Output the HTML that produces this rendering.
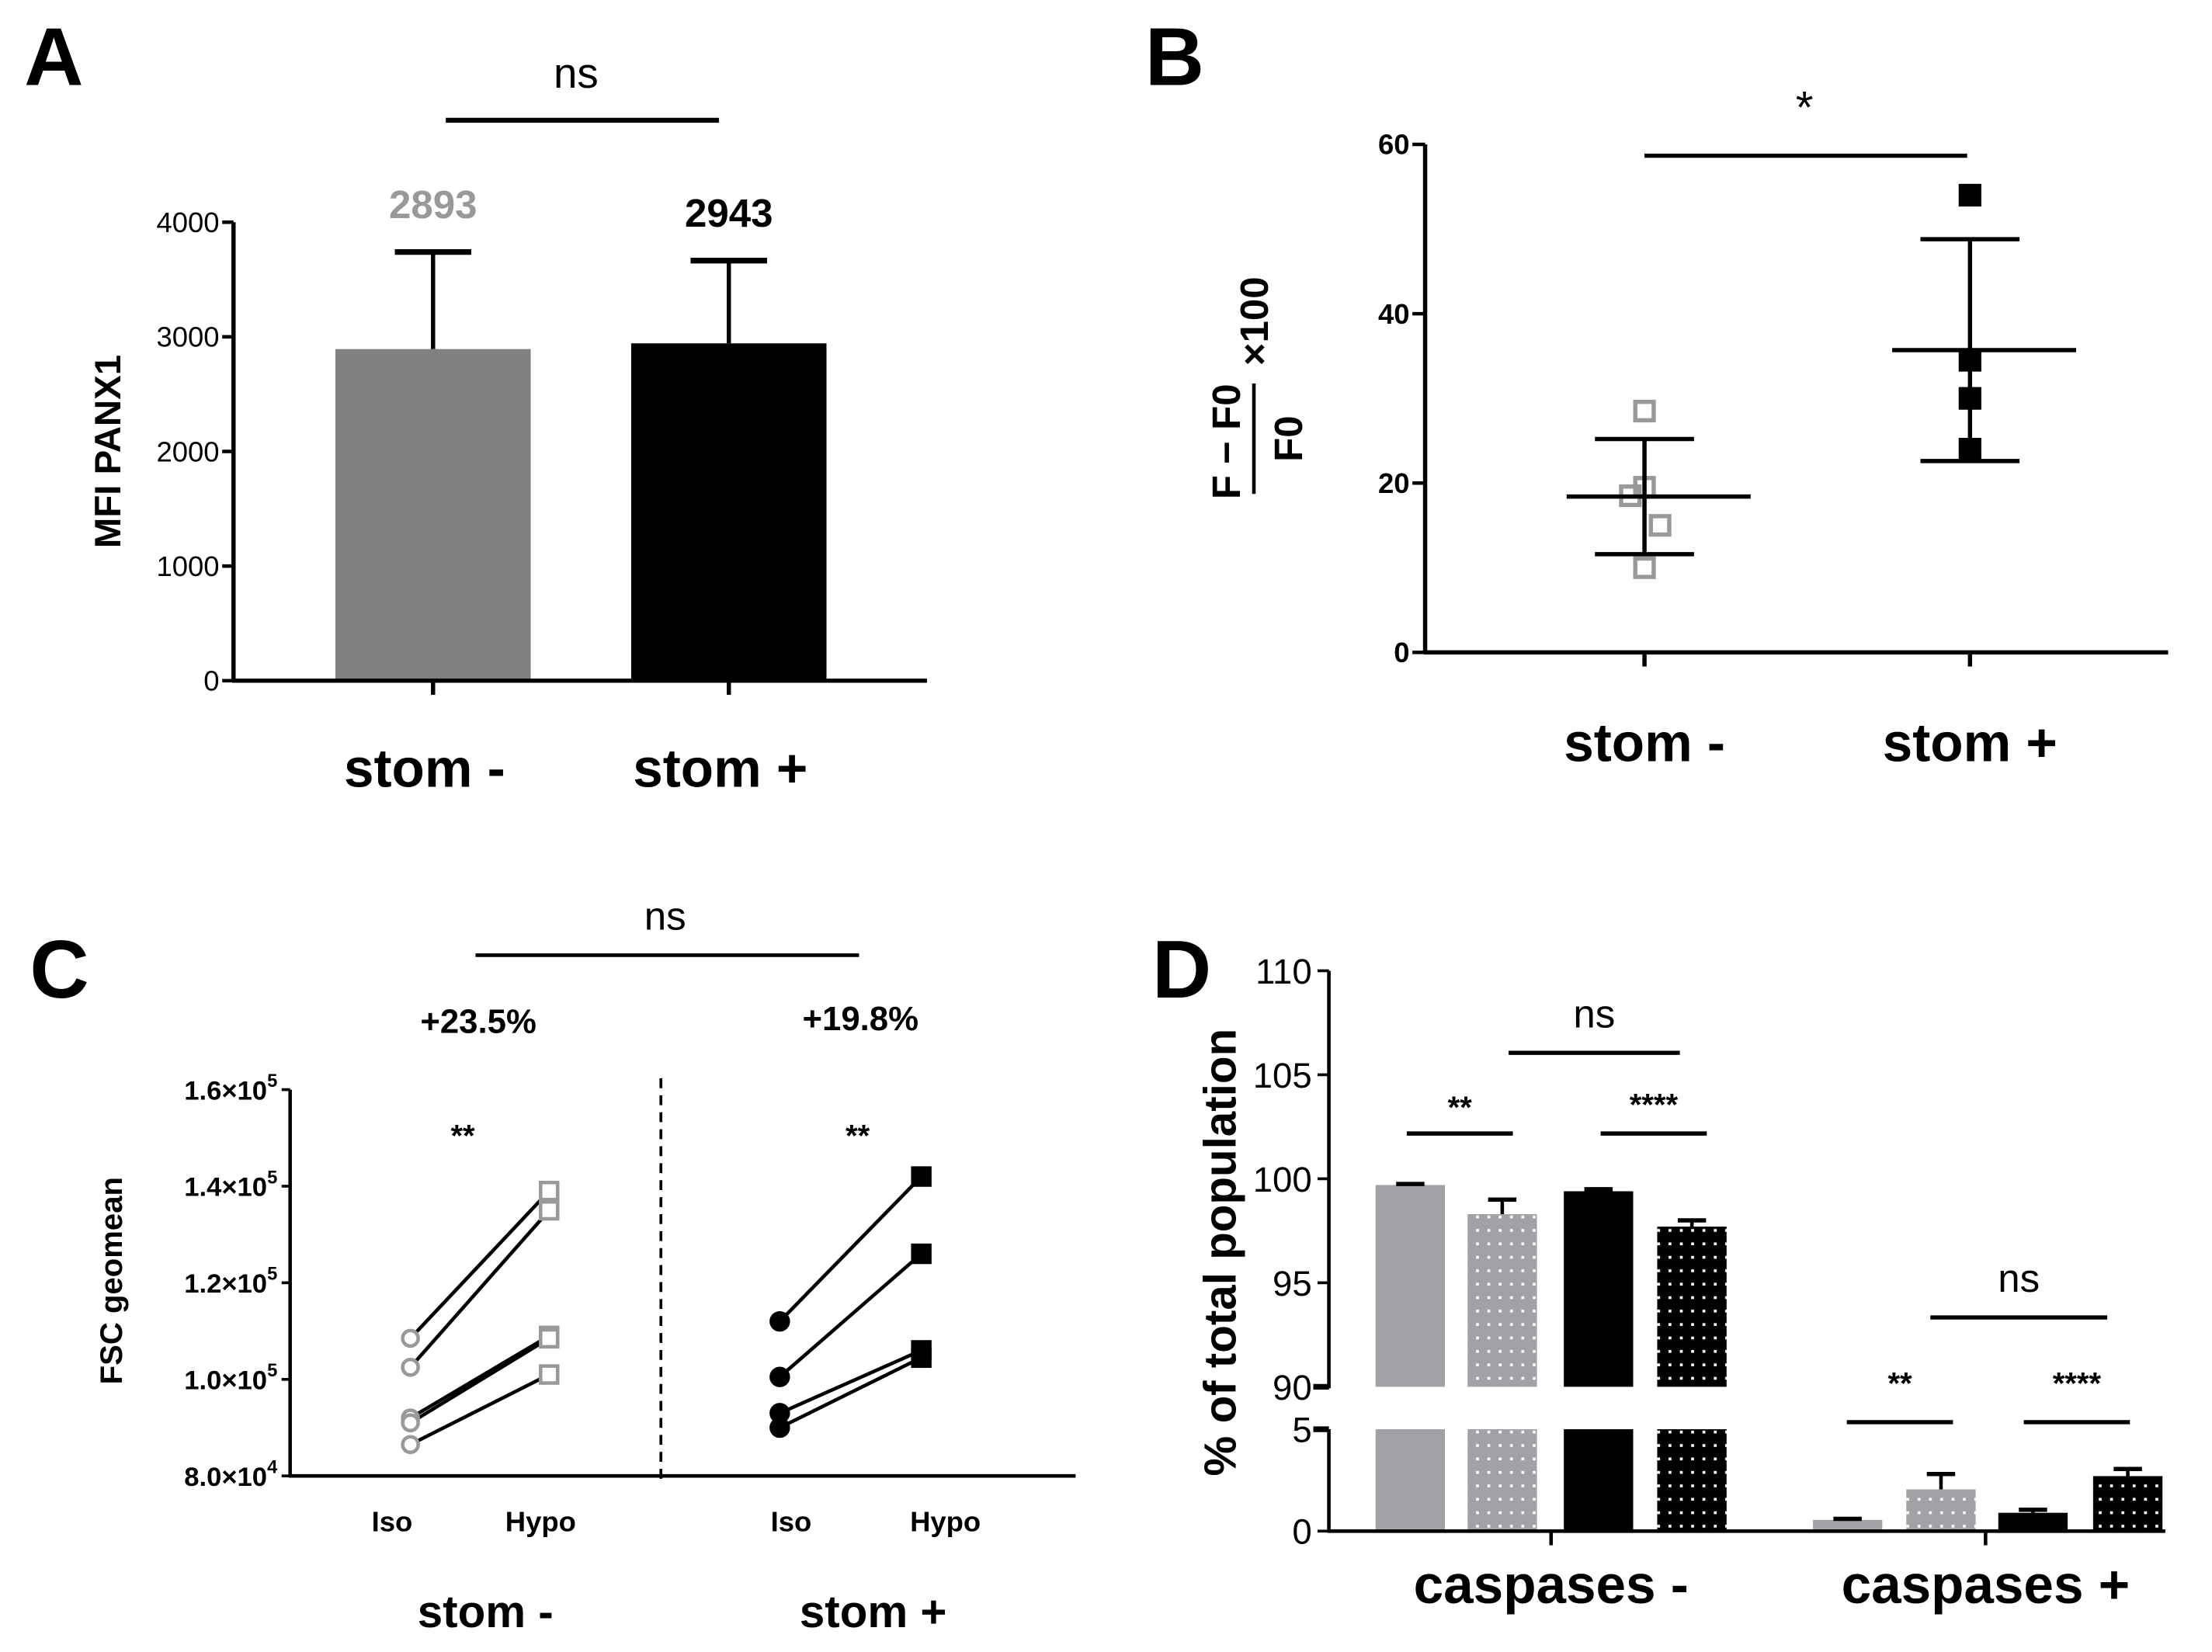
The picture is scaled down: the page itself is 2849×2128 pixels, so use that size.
<!DOCTYPE html>
<html><head><meta charset="utf-8"><style>
html,body{margin:0;padding:0;background:#fff;}
svg{display:block;font-family:"Liberation Sans",Arial,sans-serif;}
</style></head><body>
<svg id="fig" width="2849" height="2128" viewBox="0 0 1563 1167.4" xmlns="http://www.w3.org/2000/svg">
<g id="A"></g>
<g id="B"></g>
<g id="C"></g>
<g id="D"></g>
</svg>
<script>
// ---- Panel A data
const aCategories = ["stom -", "stom +"];
const aMeans = [2893, 2943];
const aErrTop = [3740, 3665];
const aTicks = [0, 1000, 2000, 3000, 4000];
// ---- Panel B data
const bCategories = ["stom -", "stom +"];
const bPointsNeg = [28.5, 19.5, 18.5, 15, 10];
const bPointsPos = [54, 34.5, 30, 24];
const bMeans = [18.4, 35.7];
const bSD = [6.8, 13.1];
const bTicks = [0, 20, 40, 60];
// ---- Panel C data
const cIsoNeg = [108500, 102500, 92000, 91000, 86500];
const cHypoNeg = [139000, 135000, 109000, 108500, 101000];
const cIsoPos = [112000, 100500, 93000, 90000];
const cHypoPos = [142000, 126000, 106000, 104500];
const cTickLabels = ["8.0", "1.0", "1.2", "1.4", "1.6"];
const cTickValues = [80000, 100000, 120000, 140000, 160000];
const cTickExp = ["4", "5", "5", "5", "5"];
// ---- Panel D data
const dGroups = ["caspases -", "caspases +"];
const dMeansNeg = [99.7, 98.3, 99.4, 97.7];
const dErrNeg = [99.75, 99.0, 99.5, 98.0];
const dMeansPos = [0.55, 2.05, 0.9, 2.7];
const dErrPos = [0.6, 2.8, 1.05, 3.05];
const dUpperTicks = [90, 95, 100, 105, 110];
const dLowerTicks = [0, 5];

const NS = "http://www.w3.org/2000/svg";
function mk(parent, tag, attrs, text) {
  const e = document.createElementNS(NS, tag);
  for (const k in attrs) e.setAttribute(k, attrs[k]);
  if (text !== undefined) e.textContent = text;
  parent.appendChild(e);
  return e;
}
function line(p, x1, y1, x2, y2, w, name, color) {
  const e = mk(p, "line", {x1, y1, x2, y2, stroke: color || "#000", "stroke-width": w});
  
  
  return e;
}
function txt(p, x, y, s, size, weight, anchor, name, color) {
  const e = mk(p, "text", {x, y, "font-size": size, "font-weight": weight, "text-anchor": anchor, fill: color || "#000"}, s);
  
  
  return e;
}
function rect(p, x, y, w, h, fill, name) {
  const e = mk(p, "rect", {x, y, width: w, height: Math.max(0, h), fill});
  
  
  return e;
}

const defs = mk(document.getElementById("fig"), "defs", {});
function pat(id, bg) {
  const p = mk(defs, "pattern", {id, width: 8, height: 9.5, patternUnits: "userSpaceOnUse"});
  mk(p, "rect", {x: 0, y: 0, width: 8, height: 9.5, fill: bg});
  mk(p, "rect", {x: 3, y: 4, width: 2, height: 2, fill: "#fff"});
}
pat("dotGray", "#a2a2a6");
pat("dotBlack", "#000");

// ================= Panel A
(function () {
  const g = document.getElementById("A");
  const y = v => 481 - v * (324 / 4000);
  const xs = [306, 515];
  const colors = ["#808080", "#000"];
  txt(g, 38, 60, "A", 58, "bold", "middle", "panel-label-a");
  aTicks.forEach(t => {
    line(g, 157, y(t), 165, y(t), 2.5, "y-tick");
    txt(g, 155, y(t) + 7, String(t), 20, "normal", "end", "y-tick-label");
  });
  aMeans.forEach((m, i) => {
    rect(g, xs[i] - 69, y(m), 138, y(0) - y(m), colors[i], "bar-" + (i ? "stom-plus" : "stom-minus"));
    line(g, xs[i], y(m), xs[i], y(aErrTop[i]), 3, "error-bar");
    line(g, xs[i] - 27, y(aErrTop[i]), xs[i] + 27, y(aErrTop[i]), 4, "error-cap");
    txt(g, xs[i], y(aErrTop[i]) - 24, String(m), 28, "bold", "middle", "value-label", i ? "#000" : "#999");
    line(g, xs[i], 481, xs[i], 491, 3, "x-tick");
    txt(g, xs[i] - 6, 556, aCategories[i], 38, "bold", "middle", "x-label");
  });
  line(g, 165, 157, 165, 482, 3, "y-axis");
  line(g, 164, 481, 655, 481, 3, "x-axis");
  const t = txt(g, 0, 0, "MFI PANX1", 26, "bold", "middle", "y-axis-title");
  t.setAttribute("transform", "translate(85,319) rotate(-90)");
  line(g, 315, 85, 508, 85, 3.5, "significance-bar");
  txt(g, 407, 62, "ns", 30, "normal", "middle", "significance-label");
})();

// ================= Panel B
(function () {
  const g = document.getElementById("B");
  const y = v => 461 - v * (359 / 60);
  const xs = [1162, 1392];
  txt(g, 830, 60, "B", 58, "bold", "middle", "panel-label-b");
  bTicks.forEach(t => {
    line(g, 998, y(t), 1007, y(t), 2.5, "y-tick");
    txt(g, 996, y(t) + 7, String(t), 20, "bold", "end", "y-tick-label");
  });
  line(g, 1007, 102, 1007, 462, 3, "y-axis");
  line(g, 1006, 461, 1532, 461, 3, "x-axis");
  const offNeg = [0, 0, -10, 11, 0];
  bPointsNeg.forEach((v, i) => {
    const r = mk(g, "rect", {x: xs[0] + offNeg[i] - 6.5, y: y(v) - 6.5, width: 13, height: 13, fill: "none", stroke: "#999", "stroke-width": 3});
    
    
  });
  bPointsPos.forEach(v => {
    rect(g, xs[1] - 8, y(v) - 8, 16, 16, "#000", "point-stom-plus");
  });
  bMeans.forEach((m, i) => {
    line(g, xs[i], y(m + bSD[i]), xs[i], y(m - bSD[i]), 3, "sd-line");
    line(g, xs[i] - 35, y(m + bSD[i]), xs[i] + 35, y(m + bSD[i]), 3, "sd-cap-top");
    line(g, xs[i] - 35, y(m - bSD[i]), xs[i] + 35, y(m - bSD[i]), 3, "sd-cap-bottom");
    line(g, xs[i] - 55, y(m), xs[i] + 75, y(m), 3, "mean-line");
    line(g, xs[i], 461, xs[i], 471, 3, "x-tick");
    txt(g, xs[i], 538, bCategories[i], 38, "bold", "middle", "x-label");
  });
  line(g, 1162, 110, 1390, 110, 3, "significance-bar");
  txt(g, 1275, 87, "*", 32, "normal", "middle", "significance-label");
  const yt = mk(g, "g", {transform: "translate(886,265) rotate(-90)"});
  
  
  txt(yt, -47, -10, "F − F0", 28, "bold", "middle", "y-title-numerator");
  line(yt, -84, 0, -6, 0, 2.5, "y-title-fraction-bar");
  txt(yt, -45, 34, "F0", 28, "bold", "middle", "y-title-denominator");
  txt(yt, 38, 10, "×100", 28, "bold", "middle", "y-title-multiplier");
})();

// ================= Panel C
(function () {
  const g = document.getElementById("C");
  const y = v => 1043 - (v - 80000) * (273 / 80000);
  txt(g, 42, 705, "C", 58, "bold", "middle", "panel-label-c");
  cTickValues.forEach((t, i) => {
    line(g, 199, y(t), 205, y(t), 2, "y-tick");
    const e = txt(g, 196, y(t) + 7, "", 19, "bold", "end", "y-tick-label");
    mk(e, "tspan", {}, cTickLabels[i] + "×10");
    mk(e, "tspan", {dy: -9, "font-size": 13}, cTickExp[i]);
  });
  line(g, 205, 770, 205, 1044, 2.5, "y-axis");
  line(g, 204, 1043, 760, 1043, 2.5, "x-axis");
  for (let yy = 762; yy < 1043; yy += 12) line(g, 467, yy, 467, yy + 7, 2, "divider-dash");
  const t = txt(g, 0, 0, "FSC geomean", 22, "bold", "middle", "y-axis-title");
  t.setAttribute("transform", "translate(86,905) rotate(-90)");
  function pairs(iso, hypo, x1, x2, filled, name) {
    iso.forEach((v, i) => {
      line(g, x1, y(v), x2, y(hypo[i]), 2.5, name + "-pair-line");
    });
    iso.forEach(v => {
      const c = mk(g, "circle", {cx: x1, cy: y(v), r: filled ? 6 : 5.5, fill: filled ? "#000" : "#fff", stroke: filled ? "#000" : "#999", "stroke-width": 2.5});
      
      
    });
    hypo.forEach(v => {
      const r = mk(g, "rect", {x: x2 - 6, y: y(v) - 6, width: 12, height: 12, fill: filled ? "#000" : "#fff", stroke: filled ? "#000" : "#999", "stroke-width": 2.5});
      
      
    });
  }
  pairs(cIsoNeg, cHypoNeg, 290, 388, false, "stom-minus");
  pairs(cIsoPos, cHypoPos, 551, 651, true, "stom-plus");
  txt(g, 277, 1082, "Iso", 20, "bold", "middle", "x-label-iso");
  txt(g, 382, 1082, "Hypo", 20, "bold", "middle", "x-label-hypo");
  txt(g, 559, 1082, "Iso", 20, "bold", "middle", "x-label-iso");
  txt(g, 668, 1082, "Hypo", 20, "bold", "middle", "x-label-hypo");
  txt(g, 343, 1150, "stom -", 32, "bold", "middle", "group-label");
  txt(g, 617, 1150, "stom +", 32, "bold", "middle", "group-label");
  txt(g, 327, 810, "**", 22, "bold", "middle", "significance-label");
  txt(g, 606, 810, "**", 22, "bold", "middle", "significance-label");
  txt(g, 338, 730, "+23.5%", 24, "bold", "middle", "percent-label");
  txt(g, 608, 728, "+19.8%", 24, "bold", "middle", "percent-label");
  line(g, 336, 675, 607, 675, 2.5, "significance-bar");
  txt(g, 470, 657, "ns", 28, "normal", "middle", "significance-label");
})();

// ================= Panel D
(function () {
  const g = document.getElementById("D");
  const yU = v => 980 - (v - 90) * 14.7;
  const yL = v => 1082 - v * 14.4;
  txt(g, 835, 705, "D", 58, "bold", "middle", "panel-label-d");
  const fills = ["#a2a2a6", "url(#dotGray)", "#000", "url(#dotBlack)"];
  const x1 = [972, 1037, 1105, 1171];
  const x2 = [1281, 1347, 1412, 1479];
  const bw = 49;
  dMeansNeg.forEach((m, i) => {
    rect(g, x1[i], yU(m), bw, yU(90) - yU(m), fills[i], "bar-caspases-neg-upper");
    rect(g, x1[i], yL(5), bw, yL(0) - yL(5), fills[i], "bar-caspases-neg-lower");
    line(g, x1[i] + bw / 2, yU(m), x1[i] + bw / 2, yU(dErrNeg[i]), 2.5, "error-bar");
    line(g, x1[i] + bw / 2 - 10, yU(dErrNeg[i]), x1[i] + bw / 2 + 10, yU(dErrNeg[i]), 3, "error-cap");
  });
  dMeansPos.forEach((m, i) => {
    rect(g, x2[i], yL(m), bw, yL(0) - yL(m), fills[i], "bar-caspases-pos");
    line(g, x2[i] + bw / 2, yL(m), x2[i] + bw / 2, yL(dErrPos[i]), 2.5, "error-bar");
    line(g, x2[i] + bw / 2 - 10, yL(dErrPos[i]), x2[i] + bw / 2 + 10, yL(dErrPos[i]), 3, "error-cap");
  });
  line(g, 939, 686, 939, 981, 2.5, "y-axis-upper");
  line(g, 939, 1010, 939, 1083, 2.5, "y-axis-lower");
  dUpperTicks.forEach(t => {
    line(g, t === 90 ? 928 : 931, yU(t), 939, yU(t), t === 90 ? 4 : 2, "y-tick");
    txt(g, 927, yU(t) + 9, String(t), 25, "normal", "end", "y-tick-label");
  });
  dLowerTicks.forEach(t => {
    line(g, t === 5 ? 928 : 931, yL(t), 939, yL(t), t === 5 ? 4 : 2, "y-tick");
    txt(g, 927, yL(t) + 9, String(t), 25, "normal", "end", "y-tick-label");
  });
  line(g, 938, 1082, 1530, 1082, 2.5, "x-axis");
  const gc = [1096, 1403];
  dGroups.forEach((n, i) => {
    line(g, gc[i], 1082, gc[i], 1092, 2.5, "x-tick");
    txt(g, gc[i], 1133, n, 38, "bold", "middle", "x-label");
  });
  const t = txt(g, 0, 0, "% of total population", 32, "bold", "middle", "y-axis-title");
  t.setAttribute("transform", "translate(873,885) rotate(-90)");
  function sig(xa, xb, yb, label, ty, size, w) {
    line(g, xa, yb, xb, yb, 3, "significance-bar");
    txt(g, (xa + xb) / 2, ty, label, size, w, "middle", "significance-label");
  }
  sig(994, 1069, 801, "**", 790, 22, "bold");
  sig(1131, 1206, 801, "****", 788, 22, "bold");
  sig(1066, 1187, 744, "ns", 726, 28, "normal");
  sig(1364, 1489, 931, "ns", 913, 28, "normal");
  sig(1305, 1380, 1005, "**", 985, 22, "bold");
  sig(1430, 1505, 1005, "****", 985, 22, "bold");
})();
</script>
</body></html>
